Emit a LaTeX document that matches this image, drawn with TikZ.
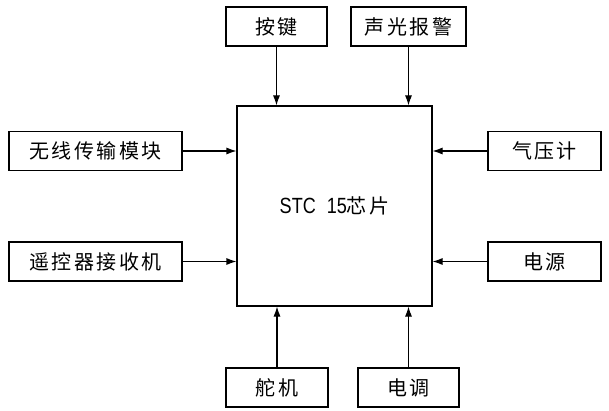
\documentclass[tikz,border=0pt]{standalone}
\usepackage{fontspec}
\setmainfont{Noto Sans CJK SC}[LetterSpace=12]
\newfontfamily\narrowsans{Liberation Sans}[FakeStretch=0.82]
\usetikzlibrary{arrows.meta}

\begin{document}
\begin{tikzpicture}
    [x=1pt, y=-1pt,
    font=\fontsize{20}{24}\selectfont,
    every node/.style={rectangle, draw=black, line width=1.1pt, inner sep=0pt, align=center},
    box/.style={minimum height=39pt},
    link/.style={line width=1.1pt, -{Latex[length=10pt, width=7pt]}}
    ]
    \useasboundingbox (0,0) rectangle (609,411);
    \node [minimum width=195pt, minimum height=200pt] (chip) at (334.5,206)
        {{\narrowsans\fontsize{22}{26}\selectfont STC\hspace{0.5em}15}芯片};
    \node [box, minimum width=101pt] (key) at (276.5,26.5) {按键};
    \node [box, minimum width=115pt] (alarm) at (408.5,26.5) {声光报警};
    \node [box, minimum width=173pt] (wireless) at (95.5,151) {无线传输模块};
    \node [box, minimum width=173pt] (receiver) at (95.5,261.5) {遥控器接收机};
    \node [box, minimum width=113pt] (baro) at (544.5,151) {气压计};
    \node [box, minimum width=113pt] (power) at (544.5,261.5) {电源};
    \node [box, minimum width=102pt] (servo) at (277,387.5) {舵机};
    \node [box, minimum width=101pt] (esc) at (408.5,387.5) {电调};

    \draw [link] (key.south) -- (key.south |- chip.north);
    \draw [link] (alarm.south) -- (alarm.south |- chip.north);
    \draw [link] (wireless.east) -- (wireless.east -| chip.west);
    \draw [link] (receiver.east) -- (receiver.east -| chip.west);
    \draw [link] (baro.west) -- (baro.west -| chip.east);
    \draw [link] (power.west) -- (power.west -| chip.east);
    \draw [link] (servo.north) -- (servo.north |- chip.south);
    \draw [link] (esc.north) -- (esc.north |- chip.south);
\end{tikzpicture}
\end{document}
